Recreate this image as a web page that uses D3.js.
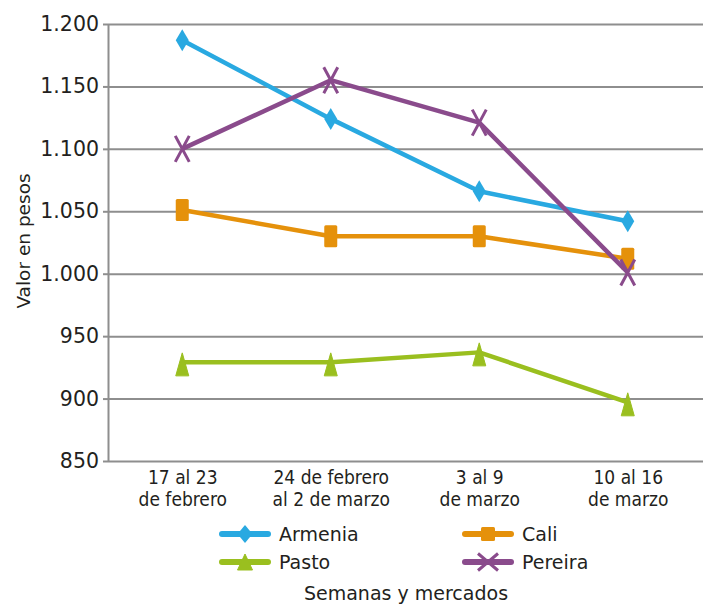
<!DOCTYPE html>
<html><head><meta charset="utf-8">
<script src="https://cdn.jsdelivr.net/npm/d3@7"></script>
<style>
body{margin:0;background:#fff}
text{font-family:"DejaVu Sans",sans-serif;fill:#231f20}
.cat text{font-family:"DejaVu Sans Condensed","Liberation Sans Narrow","DejaVu Sans",sans-serif;font-stretch:condensed}
</style>
</head><body><svg id="c" width="709" height="608"></svg>
<script>
// ---- data ----
const categories = [["17 al 23","de febrero"],["24 de febrero","al 2 de marzo"],["3 al 9","de marzo"],["10 al 16","de marzo"]];
const seriesNames = ["Armenia","Cali","Pasto","Pereira"];
const armenia = [1187,1124,1066,1042];
const cali    = [1051,1030,1030,1012];
const pasto   = [929,929,937,897];
const pereira = [1100,1155,1121,1001];
const yTicks  = [850,900,950,1000,1050,1100,1150,1200];
const yTitle  = "Valor en pesos";
const xTitle  = "Semanas y mercados";

// ---- styles ----
const colors  = {Armenia:"#29a9e1",Cali:"#e5910b",Pasto:"#9abf1f",Pereira:"#8a4b8c"};
const shapes  = {Armenia:"diamond",Cali:"square",Pasto:"triangle",Pereira:"x"};
const seriesValues = {Armenia:armenia,Cali:cali,Pasto:pasto,Pereira:pereira};

const svg = d3.select("#c");
const pL=108, pR=703, pT=24, pB=461;
const x = d3.scalePoint().domain(d3.range(categories.length)).range([pL,pR-1]).padding(0.5);
const y = d3.scaleLinear().domain([850,1200]).range([pB,pT]);
const fmt = d3.formatLocale({decimal:",",thousands:".",grouping:[3],currency:["$",""]}).format(",d");
const gridColor="#8e8e8e";

// gridlines
const grid = svg.append("g").attr("transform",`translate(${pL},0)`)
  .call(d3.axisLeft(y).tickValues(yTicks).tickSize(-(pR-pL)).tickFormat(""));
grid.select(".domain").remove();
grid.selectAll(".tick line").attr("stroke",gridColor).attr("stroke-width",2);

// y axis with outward ticks
const ya = svg.append("g").attr("transform",`translate(${pL},0)`)
  .call(d3.axisLeft(y).tickValues(yTicks).tickSize(5).tickSizeOuter(0).tickPadding(4).tickFormat(fmt));
ya.select(".domain").attr("stroke",gridColor).attr("stroke-width",2);
ya.selectAll(".tick line").attr("stroke",gridColor).attr("stroke-width",2);
ya.selectAll(".tick text").attr("font-size",20.5).attr("fill","#231f20").attr("font-family","DejaVu Sans");

// x axis labels
const xa = svg.append("g").attr("class","cat").attr("transform",`translate(0,${pB})`)
  .call(d3.axisBottom(x).tickSize(0).tickFormat(""));
xa.select(".domain").remove();
xa.selectAll(".tick").each(function(d){
  const t = d3.select(this).append("text").attr("text-anchor","middle").attr("font-size",19).attr("fill","#231f20");
  categories[d].forEach((ln,i)=>t.append("tspan").attr("x",0).attr("y",23+i*22).text(ln));
});

// marker generator
function marker(g, shape, w, h, color){
  if(shape==="diamond") g.append("path").attr("d",`M0,${-h/2}L${w/2},0L0,${h/2}L${-w/2},0Z`).attr("fill",color);
  else if(shape==="square") g.append("rect").attr("x",-w/2).attr("y",-h/2).attr("width",w).attr("height",h).attr("rx",1.5).attr("fill",color);
  else if(shape==="triangle") g.append("path").attr("d",`M0,${-h/2}L${w/2},${h/2}L${-w/2},${h/2}Z`).attr("fill",color).attr("stroke",color).attr("stroke-width",1).attr("stroke-linejoin","round");
  else { g.append("path").attr("d",`M${-w/2},${-h/2}L${w/2},${h/2}M${w/2},${-h/2}L${-w/2},${h/2}`).attr("stroke",color).attr("stroke-width",3).attr("fill","none"); }
}
const chartSize = {diamond:[13,22],square:[13,22],triangle:[13,23],x:[14,26]};
const legendSize = {diamond:[15,18],square:[14,14],triangle:[15,16],x:[20,17]};

const line = d3.line().x((d,i)=>x(i)).y(d=>y(d));
seriesNames.forEach(name=>{
  const vals = seriesValues[name], c = colors[name], s = shapes[name];
  svg.append("path").attr("d",line(vals)).attr("fill","none").attr("stroke",c).attr("stroke-width",4.5).attr("stroke-linejoin","round");
  vals.forEach((v,i)=>{
    const g = svg.append("g").attr("transform",`translate(${x(i)},${y(v)+(s==="triangle"?2:0)})`);
    marker(g,s,chartSize[s][0],chartSize[s][1],c);
  });
});

// y title
svg.append("text").attr("transform","translate(30,241) rotate(-90)").attr("text-anchor","middle").attr("font-size",18.5).text(yTitle);

// legend
const legCols=[222,465], legRows=[534,562];
seriesNames.forEach((name,i)=>{
  const lx = legCols[i%2], ly = legRows[Math.floor(i/2)], c=colors[name], s=shapes[name];
  const g = svg.append("g").attr("transform",`translate(${lx},${ly})`);
  g.append("line").attr("x1",0).attr("x2",46).attr("stroke",c).attr("stroke-width",6).attr("stroke-linecap","round");
  const m = g.append("g").attr("transform","translate(23,0)");
  marker(m,s,legendSize[s][0],legendSize[s][1],c);
  g.append("text").attr("x",57).attr("dy","0.36em").attr("font-size",19).text(name);
});

// x title
svg.append("text").attr("x",406).attr("y",600).attr("text-anchor","middle").attr("font-size",19).text(xTitle);
</script>
</body></html>
